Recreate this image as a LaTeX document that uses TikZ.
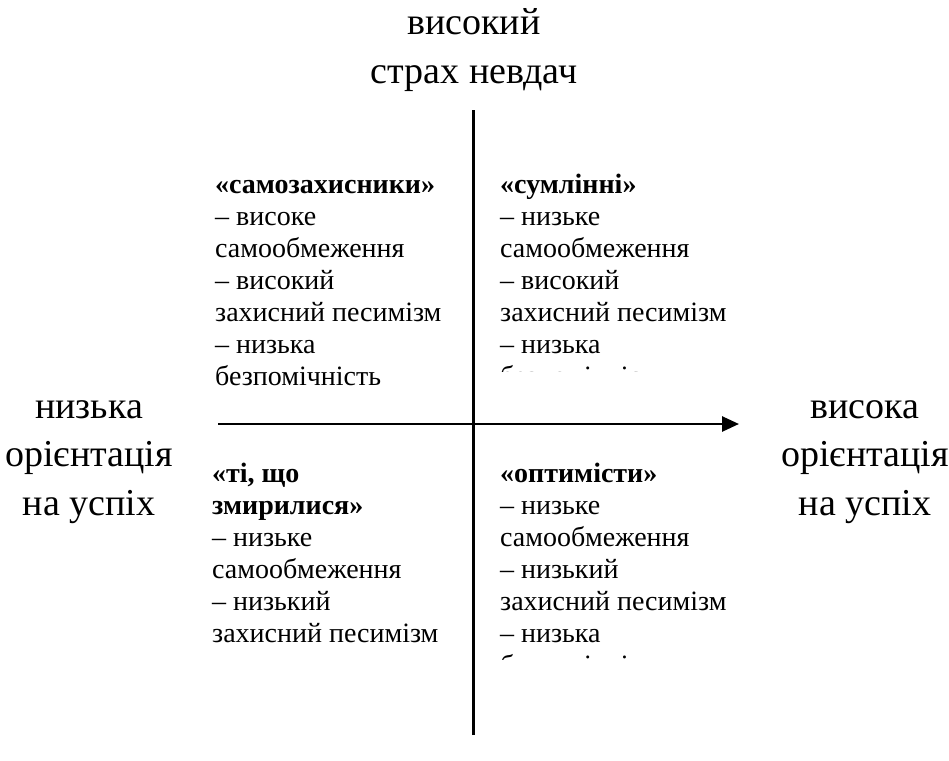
\documentclass[tikz,border=0pt]{standalone}
\usepackage{fontspec}
\setmainfont{Liberation Serif}
\usetikzlibrary{arrows.meta}
\tikzstyle{axis}=[line width=2.7pt]
\tikzstyle{pole}=[font=\fontsize{38}{49}\selectfont, anchor=base, inner sep=0pt]
\tikzstyle{entry}=[font=\fontsize{28}{32}\selectfont, anchor=base west, inner sep=0pt]
\newcommand{\rowH}{32}
\newcommand{\poleH}{48.5}

\begin{document}
\begin{tikzpicture}[x=1pt,y=-1pt]
\useasboundingbox (0,0) rectangle (949,760);
% axes
\coordinate (yTop) at (473.5,110);
\coordinate (yBot) at (473.5,735);
\coordinate (xL) at (218,424);
\coordinate (xR) at (739,424);
\draw[axis] (yBot) -- (yTop);
\draw[axis,-{Triangle[length=17pt,width=15pt]}] (xL) -- (xR);
% pole labels
\node[pole] (fearA) at (474,35) {високий};
\node[pole] (fearB) at (474,83) {страх невдач};
\foreach \t [count=\i from 0] in {низька, орієнтація, на успіх}
	\node[pole] (low\i) at (89,418+\i*\poleH) {\t};
\foreach \t [count=\i from 0] in {висока, орієнтація, на успіх}
	\node[pole] (high\i) at (865,418+\i*\poleH) {\t};
% quadrants
\foreach \t [count=\i from 0] in {\textbf{«самозахисники»}, – високе, самообмеження, – високий, захисний песимізм, – низька, безпомічність}
	\node[entry] (self\i) at (215,193+\i*\rowH) {\t};
\foreach \t [count=\i from 0] in {{\textbf{«ті, що}}, \textbf{змирилися»}, – низьке, самообмеження, – низький, захисний песимізм}
	\node[entry] (resig\i) at (212,482+\i*\rowH) {\t};
\begin{scope}
\clip (480,150) rectangle (800,371);
\foreach \t [count=\i from 0] in {\textbf{«сумлінні»}, – низьке, самообмеження, – високий, захисний песимізм, – низька, безпомічність}
	\node[entry] (consc\i) at (500,193+\i*\rowH) {\t};
\end{scope}
\begin{scope}
\clip (480,450) rectangle (800,659);
\foreach \t [count=\i from 0] in {\textbf{«оптимісти»}, – низьке, самообмеження, – низький, захисний песимізм, – низька, безпомічність}
	\node[entry] (optim\i) at (500,482+\i*\rowH) {\t};
\end{scope}
\end{tikzpicture}
\end{document}
